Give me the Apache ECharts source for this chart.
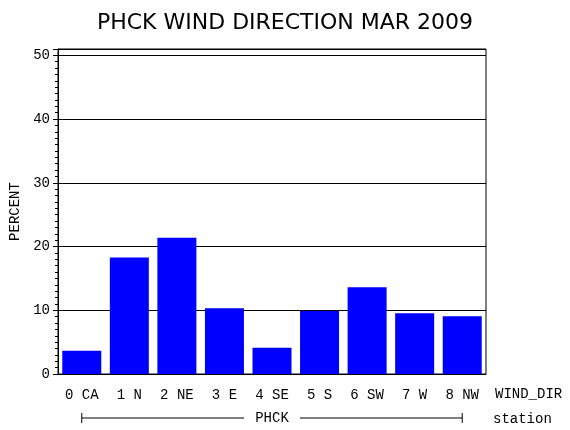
<!DOCTYPE html>
<html>
<head>
<meta charset="utf-8">
<script src="https://cdn.jsdelivr.net/npm/echarts@6/dist/echarts.min.js"></script>
<style>
html, body { margin: 0; padding: 0; background: #fff; }
#main { width: 570px; height: 430px; }
</style>
</head>
<body>
<div id="main"></div>
<script>
// wind direction categories and percent of observations
var categories = ['0 CA', '1 N', '2 NE', '3 E', '4 SE', '5 S', '6 SW', '7 W', '8 NW'];
var percents = [3.63, 18.27, 21.4, 10.3, 4.1, 9.9, 13.6, 9.55, 9.08];
var station = 'PHCK';

var monoFont = '"Liberation Mono", "DejaVu Sans Mono", monospace';

var dom = document.getElementById('main');
var myChart = echarts.init(dom);

var option = {
    backgroundColor: '#fff',
    animation: false,
    title: {
        text: station + ' WIND DIRECTION MAR 2009',
        left: 'center',
        top: 7,
        textStyle: {
            fontFamily: '"DejaVu Sans", sans-serif',
            fontWeight: 'normal',
            fontSize: 22,
            color: '#000'
        }
    },
    grid: {
        left: 58,
        right: 84,
        top: 49,
        bottom: 56,
        show: true,
        borderColor: '#000',
        borderWidth: 1
    },
    xAxis: {
        type: 'category',
        data: categories,
        axisLine: { lineStyle: { color: '#000', width: 1 } },
        axisTick: { show: false },
        axisLabel: {
            margin: 14,
            color: '#000',
            fontFamily: monoFont,
            fontSize: 14
        }
    },
    yAxis: {
        type: 'value',
        min: 0,
        max: 51,
        interval: 10,
        name: 'PERCENT',
        nameLocation: 'middle',
        nameRotate: 90,
        nameGap: 36,
        nameTextStyle: {
            color: '#000',
            fontFamily: monoFont,
            fontSize: 14
        },
        axisLine: { show: true, lineStyle: { color: '#000', width: 1 } },
        axisTick: { show: true, length: 5, lineStyle: { color: '#000' } },
        minorTick: { show: true, splitNumber: 10, length: 3, lineStyle: { color: '#000' } },
        splitLine: { show: true, lineStyle: { color: '#000', width: 1 } },
        axisLabel: {
            margin: 8,
            color: '#000',
            fontFamily: monoFont,
            fontSize: 14,
            showMaxLabel: false,
            formatter: function (v) {
                return v % 10 === 0 ? String(v) : '';
            }
        }
    },
    series: [{
        type: 'bar',
        data: percents,
        barCategoryGap: '18%',
        itemStyle: { color: '#0000ff' }
    }]
};

myChart.setOption(option);

// station bracket under the category labels, spanning first to last category
var x0 = myChart.convertToPixel({ xAxisIndex: 0 }, categories[0]);
var x1 = myChart.convertToPixel({ xAxisIndex: 0 }, categories[categories.length - 1]);
var yb = 418;
var mid = (x0 + x1) / 2;
var halfGap = 28;
var small = '14px ' + monoFont;
myChart.setOption({
    graphic: [
        { type: 'line', shape: { x1: x0, y1: yb, x2: mid - halfGap, y2: yb }, style: { stroke: '#000', lineWidth: 1 } },
        { type: 'line', shape: { x1: mid + halfGap, y1: yb, x2: x1, y2: yb }, style: { stroke: '#000', lineWidth: 1 } },
        { type: 'line', shape: { x1: x0, y1: yb - 5, x2: x0, y2: yb + 5 }, style: { stroke: '#000', lineWidth: 1 } },
        { type: 'line', shape: { x1: x1, y1: yb - 5, x2: x1, y2: yb + 5 }, style: { stroke: '#000', lineWidth: 1 } },
        { type: 'text', x: mid, y: yb, style: { text: station, fill: '#000', font: small, align: 'center', verticalAlign: 'middle' } },
        { type: 'text', x: 495, y: 394, style: { text: 'WIND_DIR', fill: '#000', font: small, align: 'left', verticalAlign: 'middle' } },
        { type: 'text', x: 493, y: 419, style: { text: 'station', fill: '#000', font: small, align: 'left', verticalAlign: 'middle' } }
    ]
});
</script>
</body>
</html>
